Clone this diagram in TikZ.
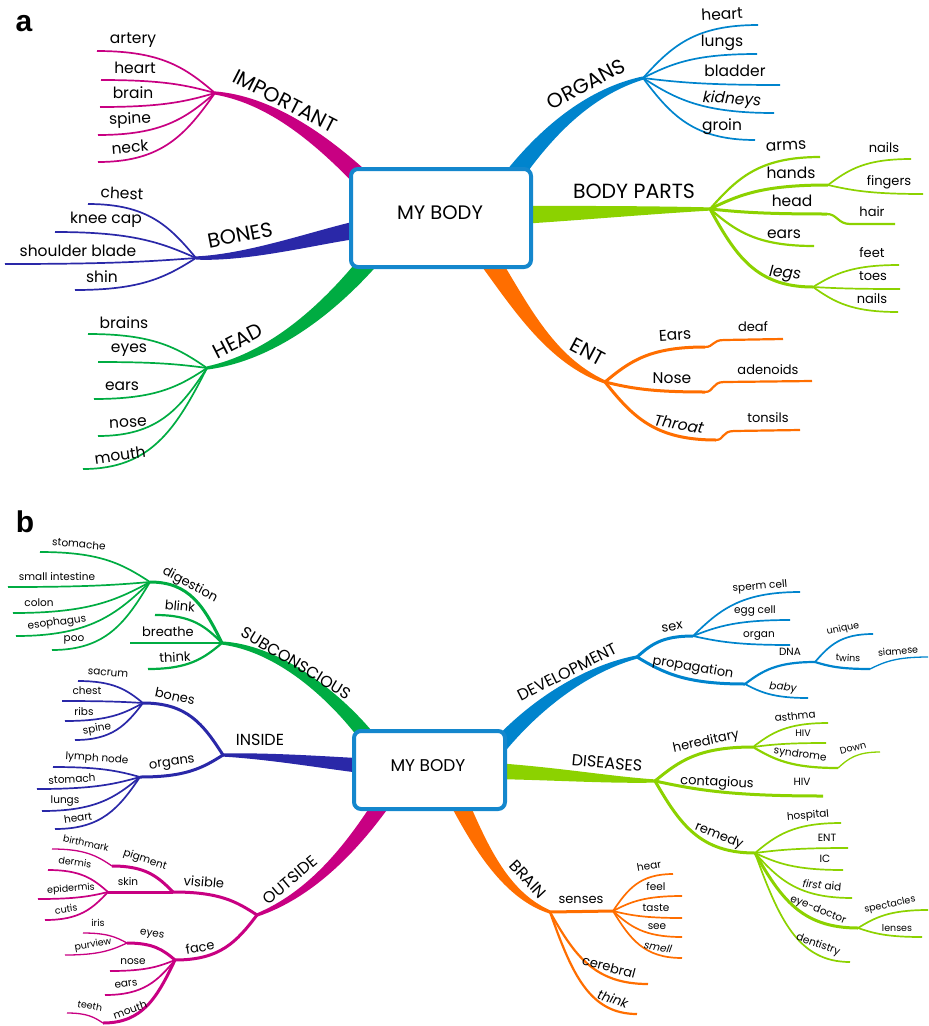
\documentclass[tikz,border=0pt]{standalone}
\usepackage{fontspec}
\setmainfont{Poppins}
\newfontfamily\labfont{Liberation Sans}
\usetikzlibrary{calc}
\definecolor{cImp}{RGB}{200,0,130}
\definecolor{cBon}{RGB}{42,40,168}
\definecolor{cGrn}{RGB}{0,172,66}
\definecolor{cBlu}{RGB}{0,132,205}
\definecolor{cLim}{RGB}{140,210,0}
\definecolor{cOra}{RGB}{255,110,0}
\definecolor{cBox}{RGB}{20,135,205}
\newcommand\taper[6]{%
 \pgfmathsetmacro\twa{#6}%
 \pgfmathsetmacro\twb{0.8*#6}%
 \pgfmathsetmacro\twc{0.45*#6}%
 \fill[#1] ($(#2)!\twa pt!90:(#3)$) .. controls ($(#3)!\twb pt!90:(#4)$) and ($(#4)!\twc pt!90:(#5)$) .. ($(#5)!1.6pt!-90:(#4)$) -- ($(#5)!1.6pt!90:(#4)$) .. controls ($(#4)!\twc pt!-90:(#5)$) and ($(#3)!\twb pt!-90:(#4)$) .. ($(#2)!\twa pt!-90:(#3)$) -- cycle;}
\newcommand\lk[3][]{\draw[#1] let \p1=(#2), \p2=(#3) in (\p1) .. controls ({\x1+0.25*(\x2-\x1)},{\y1+0.6*(\y2-\y1)}) and ({\x2+0.55*(\x1-\x2)},\y2) .. (\p2);}
\newcommand\tx[4][]{\node[#1] (#2) at (#3) {#4};}
\tikzset{
 tA/.style={font=\fontsize{20.5}{20.5}\selectfont,inner sep=0},
 tL/.style={font=\fontsize{15.5}{15.5}\selectfont,inner sep=0},
 tS/.style={font=\fontsize{13}{13}\selectfont,inner sep=0},
 tB/.style={font=\fontsize{16}{16}\selectfont,inner sep=0},
 tM/.style={font=\fontsize{13}{13}\selectfont,inner sep=0},
 tN/.style={font=\fontsize{10.5}{10.5}\selectfont,inner sep=0},
 tX/.style={font=\fontsize{9.5}{9.5}\selectfont,inner sep=0},
 tH/.style={font=\fontsize{30}{30}\labfont\bfseries,inner sep=0},
 l1/.style={line width=3pt},
 l2/.style={line width=2.2pt},
 l3/.style={line width=1.7pt},
 l4/.style={line width=1.3pt},
 bodybox/.style={draw=cBox,line width=4pt,fill=white,rounded corners=7pt,inner sep=0},
}
\begin{document}
\begin{tikzpicture}[x=1pt,y=-1pt]
\useasboundingbox (0,0) rectangle (929,1026);
% ================= PART a =================
\tx[tH]{labA}{24,24}{a}
\coordinate (hImp) at (215,93);
\coordinate (hBon) at (196,258);
\coordinate (hHea) at (207,368);
\coordinate (hOrg) at (643,78);
\coordinate (hBod) at (710,209);
\coordinate (hEnt) at (605,382);
\taper{cImp}{365,182}{320,138}{270,100}{hImp}{9}
\taper{cBon}{362,229}{320,236}{250,258}{hBon}{9}
\taper{cGrn}{368,262}{320,318}{265,358}{hHea}{9}
\taper{cBlu}{512,178}{548,130}{590,92}{hOrg}{9}
\taper{cLim}{520,215}{580,213}{650,210}{hBod}{9}
\taper{cOra}{488,258}{520,305}{550,360}{hEnt}{10}
\node[bodybox,minimum width=180pt,minimum height=98pt] (bodyA) at (441,218) {};
\tx[font=\fontsize{19.5}{19.5}\selectfont,inner sep=0]{myA}{440,213}{MY BODY}
% IMPORTANT
\lk[cImp,l3]{hImp}{97,51}
\lk[cImp,l3]{hImp}{101,80}
\lk[cImp,l3]{hImp}{100,107}
\lk[cImp,l3]{hImp}{98,135}
\lk[cImp,l3]{hImp}{98,162}
% BONES
\lk[cBon,l3]{hBon}{88,204}
\lk[cBon,l3]{hBon}{55,232}
\lk[cBon,l3]{hBon}{5,264}
\lk[cBon,l3]{hBon}{75,290}
% HEAD
\lk[cGrn,l3]{hHea}{88,334}
\lk[cGrn,l3]{hHea}{98,362}
\lk[cGrn,l3]{hHea}{94,399}
\lk[cGrn,l3]{hHea}{98,436}
\lk[cGrn,l3]{hHea}{83,469}
% ORGANS
\lk[cBlu,l3]{hOrg}{758,25}
\lk[cBlu,l3]{hOrg}{757,54}
\lk[cBlu,l3]{hOrg}{780,85}
\lk[cBlu,l3]{hOrg}{774,113}
\lk[cBlu,l3]{hOrg}{755,140}
% BODY PARTS
\coordinate (pHan) at (828,185);
\coordinate (pHea) at (827,214);
\coordinate (pLeg) at (813,287);
\lk[cLim,l2]{hBod}{820,157}
\lk[cLim,l1]{hBod}{pHan}
\lk[cLim,l3]{pHan}{911,159}
\lk[cLim,l3]{pHan}{923,194}
\lk[cLim,l1]{hBod}{pHea}
\draw[cLim,l2] (pHea) .. controls (837,214) and (838,224) .. (850,224) -- (895,224);
\lk[cLim,l2]{hBod}{814,246}
\lk[cLim,l1]{hBod}{pLeg}
\lk[cLim,l3]{pLeg}{899,265}
\lk[cLim,l3]{pLeg}{900,289}
\lk[cLim,l3]{pLeg}{898,312}
% ENT
\coordinate (pEar) at (705,347);
\coordinate (pNos) at (705,392);
\coordinate (pThr) at (716,440);
\lk[cOra,l1]{hEnt}{pEar}
\draw[cOra,l2] (pEar) .. controls (714,347) and (712,340) .. (724,340) -- (783,339);
\lk[cOra,l1]{hEnt}{pNos}
\draw[cOra,l2] (pNos) .. controls (714,392) and (712,382) .. (724,382) -- (812,381);
\lk[cOra,l1]{hEnt}{pThr}
\draw[cOra,l2] (pThr) .. controls (724,440) and (722,431) .. (734,431) -- (800,430);
% labels a
\tx[tA,rotate=-27]{lImp}{285,101}{IMPORTANT}
\tx[tA,rotate=11]{lBon}{240,235}{BONES}
\tx[tA,rotate=27]{lHea}{238,341}{HEAD}
\tx[tA,rotate=28]{lOrg}{586,84}{ORGANS}
\tx[tA]{lBod}{634,191}{BODY PARTS}
\tx[tA,rotate=-28]{lEnt}{588,352}{ENT}
\tx[tL]{a1}{133,40}{artery}
\tx[tL]{a2}{135,68}{heart}
\tx[tL]{a3}{133,93}{brain}
\tx[tL,rotate=3]{a4}{130,120}{spine}
\tx[tL,rotate=5]{a5}{130,147}{neck}
\tx[tL,rotate=-3]{b1}{122,193}{chest}
\tx[tL]{b2}{106,220}{knee cap}
\tx[tL]{b3}{78,251}{shoulder blade}
\tx[tL]{b4}{102,277}{shin}
\tx[tL]{c1}{124,323}{brains}
\tx[tL]{c2}{129,350}{eyes}
\tx[tL]{c3}{122,386}{ears}
\tx[tL,rotate=3]{c4}{128,423}{nose}
\tx[tL,rotate=8]{c5}{120,455}{mouth}
\tx[tL,rotate=3]{d1}{722,14}{heart}
\tx[tL]{d2}{722,43}{lungs}
\tx[tL]{d3}{735,71}{bladder}
\tx[tL,rotate=-3]{d4}{732,100}{\itshape kidneys}
\tx[tL]{d5}{722,127}{groin}
\tx[tL,rotate=3]{e1}{786,146}{arms}
\tx[tL]{e2}{791,173}{hands}
\tx[tL]{e3}{792,201}{head}
\tx[tL]{e4}{784,234}{ears}
\tx[tL,rotate=-5]{e5}{785,274}{\itshape legs}
\tx[tS]{e6}{884,148}{nails}
\tx[tS]{e7}{889,182}{fingers}
\tx[tS]{e8}{872,212}{hair}
\tx[tS]{e9}{872,253}{feet}
\tx[tS]{e10}{873,276}{toes}
\tx[tS]{e11}{872,299}{nails}
\tx[tL,rotate=4]{f1}{675,335}{Ears}
\tx[tS]{f2}{753,327}{deaf}
\tx[tL]{f3}{672,378}{Nose}
\tx[tS]{f4}{768,370}{adenoids}
\tx[tL,rotate=-10]{f5}{679,424}{\itshape Throat}
\tx[tS]{f6}{768,418}{tonsils}
% ================= PART b =================
\tx[tH]{labB}{25,522}{b}
\coordinate (hSub) at (222,643);
\coordinate (hIns) at (223,755);
\coordinate (hOut) at (257,915);
\coordinate (hDev) at (637,657);
\coordinate (hDis) at (655,781);
\coordinate (hBra) at (550,912);
\taper{cGrn}{368,738}{330,690}{275,648}{hSub}{7.5}
\taper{cBon}{365,766}{320,762}{270,756}{hIns}{7.5}
\taper{cImp}{382,803}{350,850}{310,895}{hOut}{8}
\taper{cBlu}{500,745}{540,700}{590,668}{hDev}{8}
\taper{cLim}{495,771}{560,774}{610,780}{hDis}{8}
\taper{cOra}{458,800}{480,845}{505,895}{hBra}{9}
\node[bodybox,minimum width=151pt,minimum height=78pt] (bodyB) at (429.5,770) {};
\tx[font=\fontsize{17}{17}\selectfont,inner sep=0]{myB}{428,766}{MY BODY}
% SUBCONSCIOUS
\coordinate (pDig) at (150,582);
\lk[cGrn,l1]{hSub}{pDig}
\lk[cGrn,l3]{pDig}{40,552}
\lk[cGrn,l3]{pDig}{8,587}
\lk[cGrn,l3]{pDig}{13,613}
\lk[cGrn,l3]{pDig}{16,636}
\lk[cGrn,l3]{pDig}{52,650}
\lk[cGrn,l2]{hSub}{155,615}
\lk[cGrn,l2]{hSub}{130,643}
\lk[cGrn,l2]{hSub}{148,669}
% INSIDE
\coordinate (pBon) at (143,703);
\coordinate (pOrg) at (140,777);
\lk[cBon,l1]{hIns}{pBon}
\lk[cBon,l3]{pBon}{78,681}
\lk[cBon,l3]{pBon}{62,701}
\lk[cBon,l3]{pBon}{65,721}
\lk[cBon,l3]{pBon}{75,740}
\lk[cBon,l1]{hIns}{pOrg}
\lk[cBon,l3]{pOrg}{53,767}
\lk[cBon,l3]{pOrg}{37,789}
\lk[cBon,l3]{pOrg}{42,811}
\lk[cBon,l3]{pOrg}{55,829}
% OUTSIDE
\coordinate (pVis) at (173,892);
\coordinate (pPig) at (112,866);
\coordinate (pSkn) at (108,892);
\coordinate (pFac) at (175,960);
\coordinate (pEye) at (127,943);
\coordinate (pMou) at (103,1023);
\lk[cImp,l1]{hOut}{pVis}
\lk[cImp,l1]{pVis}{pPig}
\lk[cImp,l4]{pPig}{52,849}
\draw[cImp,l1] (pVis) -- (pSkn);
\lk[cImp,l3]{pSkn}{48,870}
\lk[cImp,l3]{pSkn}{38,899}
\lk[cImp,l3]{pSkn}{45,920}
\lk[cImp,l1]{hOut}{pFac}
\lk[cImp,l1]{pFac}{pEye}
\lk[cImp,l4]{pEye}{83,933}
\lk[cImp,l4]{pEye}{65,955}
\lk[cImp,l3]{pFac}{110,971}
\lk[cImp,l3]{pFac}{105,995}
\lk[cImp,l1]{pFac}{pMou}
\lk[cImp,l4]{pMou}{67,1013}
% DEVELOPMENT
\coordinate (pSex) at (693,636);
\coordinate (pPro) at (745,684);
\coordinate (pDNA) at (815,662);
\coordinate (pTwi) at (870,669);
\lk[cBlu,l1]{hDev}{pSex}
\lk[cBlu,l3]{pSex}{800,592}
\lk[cBlu,l3]{pSex}{790,620}
\lk[cBlu,l3]{pSex}{790,645}
\lk[cBlu,l1]{hDev}{pPro}
\lk[cBlu,l2]{pPro}{pDNA}
\lk[cBlu,l3]{pDNA}{873,634}
\lk[cBlu,l2]{pDNA}{pTwi}
\lk[cBlu,l4]{pTwi}{928,657}
\lk[cBlu,l3]{pPro}{808,698}
% DISEASES
\coordinate (pHer) at (753,747);
\coordinate (pSyn) at (838,768);
\coordinate (pRem) at (755,853);
\coordinate (pEyd) at (858,928);
\lk[cLim,l1]{hDis}{pHer}
\lk[cLim,l3]{pHer}{828,723}
\lk[cLim,l3]{pHer}{826,743}
\lk[cLim,l2]{pHer}{pSyn}
\lk[cLim,l4]{pSyn}{880,752}
\lk[cLim,l1]{hDis}{823,796}
\lk[cLim,l1]{hDis}{pRem}
\lk[cLim,l3]{pRem}{841,823}
\lk[cLim,l3]{pRem}{848,848}
\lk[cLim,l3]{pRem}{843,870}
\lk[cLim,l3]{pRem}{852,898}
\lk[cLim,l1]{pRem}{pEyd}
\lk[cLim,l3]{pEyd}{928,910}
\lk[cLim,l3]{pEyd}{922,937}
\lk[cLim,l3]{pRem}{850,962}
% BRAIN
\coordinate (pSen) at (613,911);
\draw[cOra,l1] (hBra) -- (pSen);
\lk[cOra,l3]{pSen}{673,874}
\lk[cOra,l3]{pSen}{682,896}
\lk[cOra,l3]{pSen}{682,918}
\lk[cOra,l3]{pSen}{682,937}
\lk[cOra,l3]{pSen}{682,958}
\lk[cOra,l2]{hBra}{648,984}
\lk[cOra,l2]{hBra}{637,1014}
% labels b
\tx[tB,rotate=-31]{lSub}{296,663}{SUBCONSCIOUS}
\tx[tB]{lIns}{260,740}{INSIDE}
\tx[tB,rotate=40]{lOut}{290,880}{OUTSIDE}
\tx[tB,rotate=27]{lDev}{567,672}{DEVELOPMENT}
\tx[tB,rotate=-5]{lDis}{607,763}{DISEASES}
\tx[tB,rotate=-47]{lBra}{528,879}{BRAIN}
\tx[tM,rotate=-28]{g1}{190,585}{digestion}
\tx[tM,rotate=-5]{g2}{180,606}{blink}
\tx[tM]{g3}{168,632}{breathe}
\tx[tM,rotate=3]{g4}{175,657}{think}
\tx[tN,rotate=-5]{g5}{79,544}{stomache}
\tx[tN]{g6}{57,577}{small intestine}
\tx[tN]{g7}{39,603}{colon}
\tx[tN,rotate=8]{g8}{57,623}{esophagus}
\tx[tN]{g9}{74,640}{poo}
\tx[tM,rotate=-12]{i1}{175,696}{bones}
\tx[tM,rotate=8]{i2}{172,764}{organs}
\tx[tN,rotate=-5]{i3}{108,673}{sacrum}
\tx[tN]{i4}{87,691}{chest}
\tx[tN]{i5}{84,712}{ribs}
\tx[tN,rotate=10]{i6}{97,729}{spine}
\tx[tN,rotate=-4]{i7}{97,759}{lymph node}
\tx[tN,rotate=3]{i8}{72,779}{stomach}
\tx[tN]{i9}{65,801}{lungs}
\tx[tN,rotate=8]{i10}{78,818}{heart}
\tx[tM,rotate=-5]{o1}{204,882}{visible}
\tx[tM,rotate=10]{o2}{200,947}{face}
\tx[tN,rotate=-18]{o3}{145,860}{pigment}
\tx[tN]{o4}{128,882}{skin}
\tx[tX,rotate=-12]{o5}{86,843}{birthmark}
\tx[tX,rotate=-8]{o6}{75,862}{dermis}
\tx[tX,rotate=4]{o7}{71,889}{epidermis}
\tx[tX,rotate=8]{o8}{66,909}{cutis}
\tx[tN,rotate=-10]{o9}{152,935}{eyes}
\tx[tX]{o10}{98,923}{iris}
\tx[tX,rotate=10]{o11}{93,945}{purview}
\tx[tN]{o12}{133,962}{nose}
\tx[tN,rotate=8]{o13}{126,984}{ears}
\tx[tN,rotate=20]{o14}{130,1010}{mouth}
\tx[tX,rotate=-10]{o15}{90,1006}{teeth}
\tx[tM,rotate=8]{v1}{672,627}{sex}
\tx[tM,rotate=-10]{v2}{693,668}{propagation}
\tx[tN,rotate=5]{v3}{760,587}{sperm cell}
\tx[tN]{v4}{755,611}{egg cell}
\tx[tN]{v5}{759,636}{organ}
\tx[tN]{v6}{790,652}{DNA}
\tx[tN,rotate=-5]{v7}{783,688}{\itshape baby}
\tx[tX,rotate=12]{v8}{843,629}{unique}
\tx[tX,rotate=-3]{v9}{848,658}{twins}
\tx[tX,rotate=5]{v10}{898,651}{siamese}
\tx[tM,rotate=12]{s1}{706,742}{hereditary}
\tx[tM,rotate=-3]{s2}{717,783}{contagious}
\tx[tM,rotate=-22]{s3}{719,836}{remedy}
\tx[tN,rotate=6]{s4}{795,716}{asthma}
\tx[tX]{s5}{803,733}{HIV}
\tx[tN,rotate=-8]{s6}{800,755}{syndrome}
\tx[tX,rotate=15]{s7}{853,748}{Down}
\tx[tN]{s8}{802,782}{HIV}
\tx[tN,rotate=5]{s9}{808,816}{hospital}
\tx[tN]{s10}{827,838}{ENT}
\tx[tN]{s11}{825,859}{IC}
\tx[tN,rotate=-5]{s12}{822,885}{{\itshape first} aid}
\tx[tN,rotate=-22]{s13}{818,910}{eye-doctor}
\tx[tX,rotate=12]{s14}{890,905}{spectacles}
\tx[tX]{s15}{897,928}{lenses}
\tx[tN,rotate=-20]{s16}{818,945}{dentistry}
\tx[tM]{r1}{581,900}{senses}
\tx[tM,rotate=-15]{r2}{609,967}{cerebral}
\tx[tM,rotate=-18]{r3}{613,999}{\itshape think}
\tx[tN,rotate=10]{r4}{649,866}{hear}
\tx[tN]{r5}{656,887}{feel}
\tx[tN]{r6}{656,908}{taste}
\tx[tN]{r7}{657,927}{see}
\tx[tN,rotate=-10]{r8}{658,947}{\itshape smell}
\end{tikzpicture}
\end{document}
